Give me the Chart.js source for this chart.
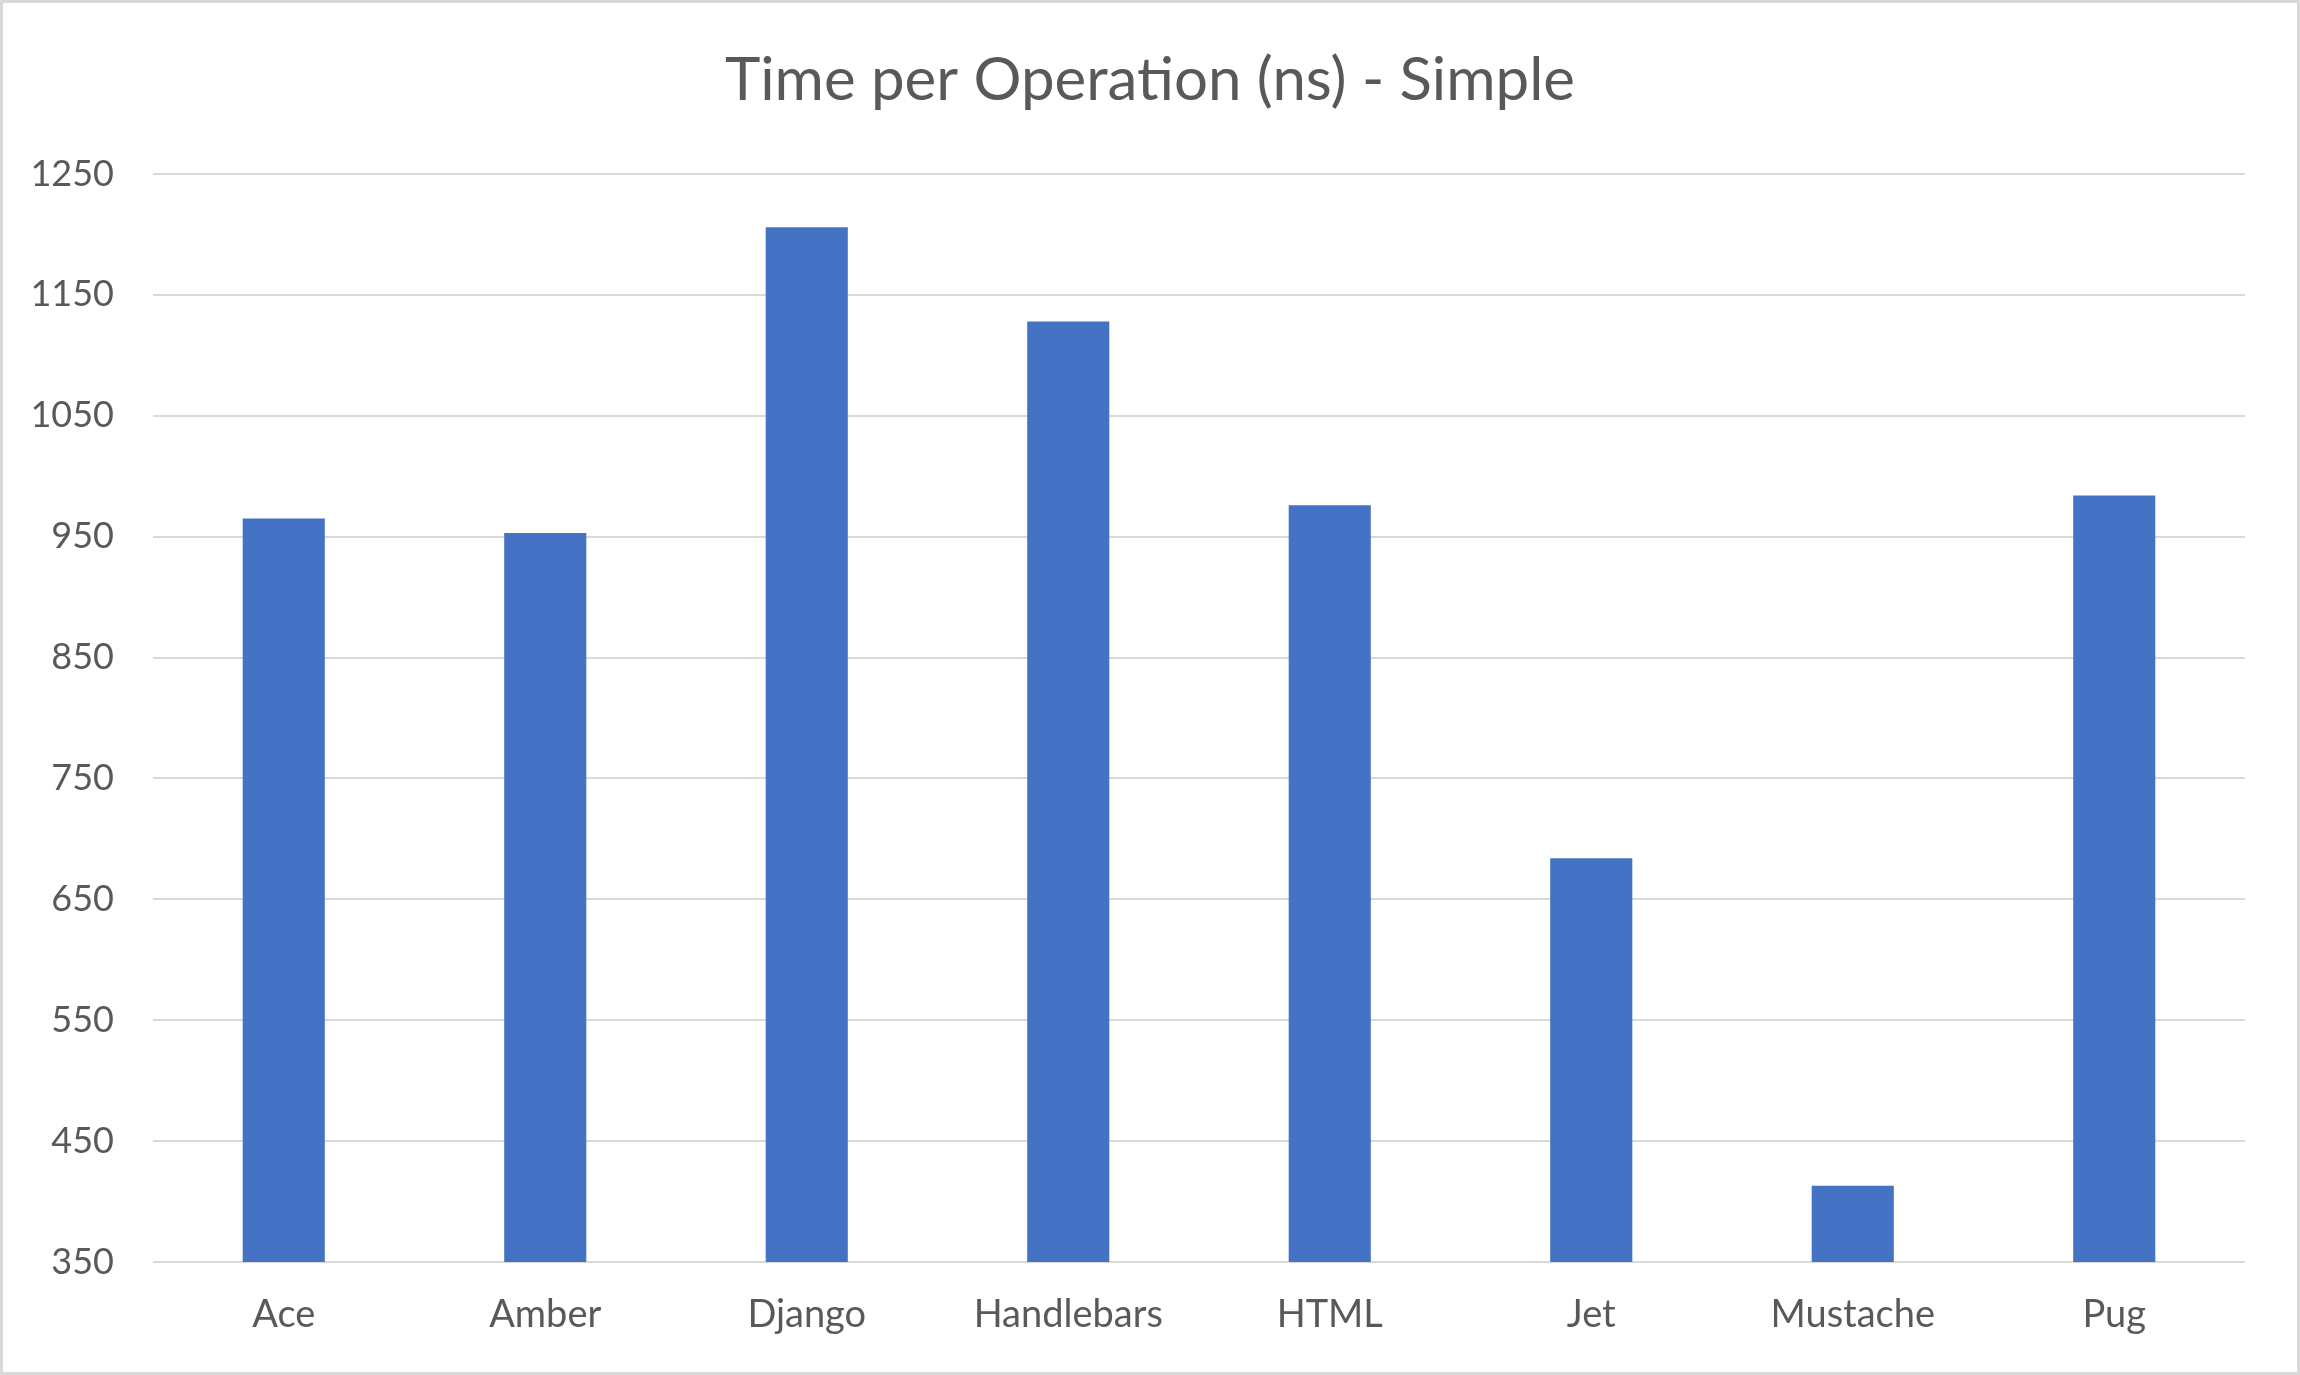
<!DOCTYPE html>
<html>
<head>
<meta charset="utf-8">
<script src="https://cdn.jsdelivr.net/npm/chart.js@4/dist/chart.umd.min.js"></script>
<style>
  html, body { margin: 0; padding: 0; background: #fff; }
  #wrap { position: relative; width: 2300px; height: 1375px; }
  #frame { position: absolute; left: 0; top: 0; width: 2300px; height: 1375px;
           box-sizing: border-box; border: 3px solid #d9d9d9; pointer-events: none; }
</style>
</head>
<body>
<div id="wrap">
  <canvas id="timeChart" width="2300" height="1375"></canvas>
  <div id="frame"></div>
</div>
<script>
// Time per operation for each template engine (ns)
const engines = ["Ace", "Amber", "Django", "Handlebars", "HTML", "Jet", "Mustache", "Pug"];
const nsPerOp = [965, 953, 1206, 1128, 976, 684, 413, 984];
const yTicks = [350, 450, 550, 650, 750, 850, 950, 1050, 1150, 1250];

const textGrey = "#595959";

new Chart(document.getElementById("timeChart"), {
  type: "bar",
  data: {
    labels: engines,
    datasets: [
      {
        label: "Time per Operation (ns)",
        data: nsPerOp,
        backgroundColor: "#4472C4",
        borderWidth: 0,
        barPercentage: 0.314,
        categoryPercentage: 1.0,
      },
    ],
  },
  options: {
    responsive: false,
    animation: false,
    devicePixelRatio: 1,
    layout: { padding: 0 },
    plugins: {
      legend: { display: false },
      tooltip: { enabled: false },
      title: {
        display: true,
        text: "Time per Operation (ns) - Simple",
        color: textGrey,
        font: { family: "Lato", size: 60, weight: "normal", lineHeight: 1.2 },
        padding: { top: 45, bottom: 57 },
      },
    },
    scales: {
      x: {
        grid: { display: false, drawTicks: false },
        border: { display: false },
        ticks: {
          color: textGrey,
          font: { family: "Lato", size: 38 },
          padding: 30,
        },
        afterFit: function (scale) {
          scale.height = 113;
        },
      },
      y: {
        min: 350,
        max: 1250,
        grid: { color: "#d9d9d9", lineWidth: 2, drawTicks: false },
        border: { display: false },
        ticks: {
          color: textGrey,
          font: { family: "Lato", size: 36 },
          padding: 39,
          stepSize: 100,
          callback: function (value) {
            return yTicks.includes(value) ? value : "";
          },
        },
        afterBuildTicks: function (scale) {
          scale.ticks = yTicks.map(function (v) { return { value: v }; });
        },
        afterFit: function (scale) {
          scale.width = 153;
        },
      },
      // empty right margin, so the title stays centred on the whole frame
      yRight: {
        position: "right",
        grid: { display: false, drawTicks: false },
        border: { display: false },
        ticks: { display: false },
        afterFit: function (scale) {
          scale.width = 55;
        },
      },
    },
  },
});
</script>
</body>
</html>
